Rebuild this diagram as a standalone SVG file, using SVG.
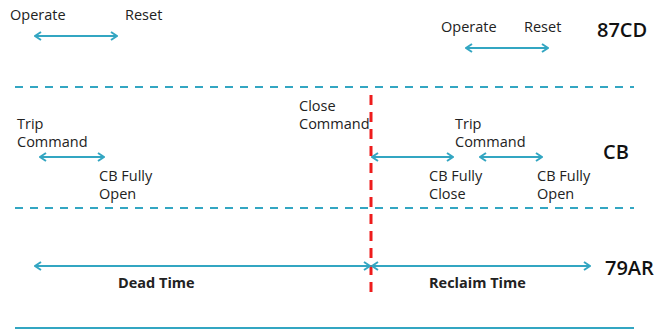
<svg xmlns="http://www.w3.org/2000/svg" width="656" height="330" viewBox="0 0 656 330">
<style>
.t{font-family:"Open Sans","Noto Sans","DejaVu Sans",sans-serif;font-size:14.5px;fill:#222}
.b{font-family:"Open Sans","Noto Sans","DejaVu Sans",sans-serif;font-size:14.5px;font-weight:bold;fill:#222}
.lbl{font-family:"Open Sans","Noto Sans","DejaVu Sans",sans-serif;font-size:20px;font-weight:600;fill:#111}
.a{stroke:#33a6c2;stroke-width:2;fill:none;marker-start:url(#ah);marker-end:url(#ah)}
.d{stroke:#33a6c2;stroke-width:2;stroke-dasharray:8 7;fill:none}
</style>
<defs>
<marker id="ah" viewBox="0 0 10 10" refX="9" refY="5" markerWidth="10" markerHeight="10" markerUnits="userSpaceOnUse" orient="auto-start-reverse">
<path d="M3,1 L9,5 L3,9" fill="none" stroke="#33a6c2" stroke-width="2"/>
</marker>
</defs>
<g id="lanes">
<line class="d" x1="15" y1="87" x2="634" y2="87"/>
<line class="d" x1="15" y1="208" x2="634" y2="208"/>
<line x1="15" y1="328" x2="634" y2="328" stroke="#33a6c2" stroke-width="2"/>
<line x1="371" y1="95" x2="371" y2="296" stroke="#ee1c1c" stroke-width="3" stroke-dasharray="10 7"/>
</g>
<g id="connectors">
<line class="a" x1="35" y1="36" x2="117" y2="36"/>
<line class="a" x1="466" y1="48" x2="548" y2="48"/>
<line class="a" x1="40" y1="157" x2="104" y2="157"/>
<line class="a" x1="372" y1="157" x2="453" y2="157"/>
<line class="a" x1="480" y1="157" x2="542" y2="157"/>
<line class="a" x1="35" y1="266" x2="370" y2="266"/>
<line class="a" x1="372" y1="266" x2="590" y2="266"/>
</g>
<g id="n87CD">
<text class="t" x="10" y="20">Operate</text>
<text class="t" x="125" y="20">Reset</text>
<text class="t" x="441" y="32">Operate</text>
<text class="t" x="524" y="32">Reset</text>
<text class="lbl" x="597" y="37">87CD</text>
</g>
<g id="nCB">
<text class="t" x="299" y="111">Close</text>
<text class="t" x="299" y="129">Command</text>
<text class="t" x="17" y="129">Trip</text>
<text class="t" x="17" y="147">Command</text>
<text class="t" x="99" y="181">CB Fully</text>
<text class="t" x="99" y="199">Open</text>
<text class="t" x="455" y="129">Trip</text>
<text class="t" x="455" y="147">Command</text>
<text class="t" x="429" y="181">CB Fully</text>
<text class="t" x="429" y="199">Close</text>
<text class="t" x="537" y="181">CB Fully</text>
<text class="t" x="537" y="199">Open</text>
<text class="lbl" x="603" y="159">CB</text>
</g>
<g id="n79AR">
<text class="b" x="118" y="288">Dead Time</text>
<text class="b" x="429" y="288">Reclaim Time</text>
<text class="lbl" x="605" y="275">79AR</text>
</g>
</svg>
